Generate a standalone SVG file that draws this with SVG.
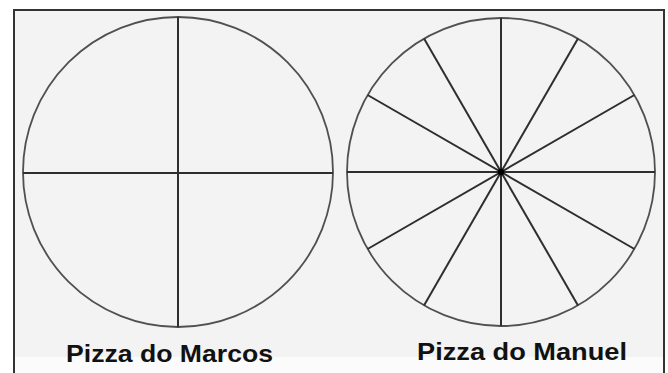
<svg xmlns="http://www.w3.org/2000/svg" width="668" height="373" viewBox="0 0 668 373">
<style>
.rim{fill:none;stroke:#505050;stroke-width:1.8}
.cut{stroke:#2e2e2e;stroke-width:2}
.lbl{font-family:"Liberation Sans",Arial,sans-serif;font-weight:bold;font-size:24px;fill:#111}
</style>
<rect x="0" y="0" width="668" height="373" fill="#ffffff"/>
<rect x="14" y="10" width="650" height="370" fill="#f3f3f3" stroke="#333" stroke-width="2"/>
<rect x="15" y="357" width="648" height="16" fill="#fbfbfb"/>
<g id="pizza-marcos">
<circle class="rim" cx="178" cy="172" r="155"/>
<line class="cut" x1="178" y1="17" x2="178" y2="327"/>
<line class="cut" x1="23" y1="173" x2="333" y2="173"/>
<text class="lbl" x="66" y="362" textLength="207" lengthAdjust="spacingAndGlyphs">Pizza do Marcos</text>
</g>
<g id="pizza-manuel">
<circle class="rim" cx="501" cy="172" r="154"/>
<g transform="translate(501,172)">
<line class="cut" x1="-154" y1="0" x2="154" y2="0"/>
<line class="cut" x1="0" y1="-154" x2="0" y2="154"/>
<line class="cut" x1="-133.4" y1="-77" x2="133.4" y2="77"/>
<line class="cut" x1="-133.4" y1="77" x2="133.4" y2="-77"/>
<line class="cut" x1="-77" y1="-133.4" x2="77" y2="133.4"/>
<line class="cut" x1="-77" y1="133.4" x2="77" y2="-133.4"/>
<circle r="3.2" fill="#000"/>
</g>
<text class="lbl" x="417" y="360" textLength="210" lengthAdjust="spacingAndGlyphs">Pizza do Manuel</text>
</g>
</svg>
